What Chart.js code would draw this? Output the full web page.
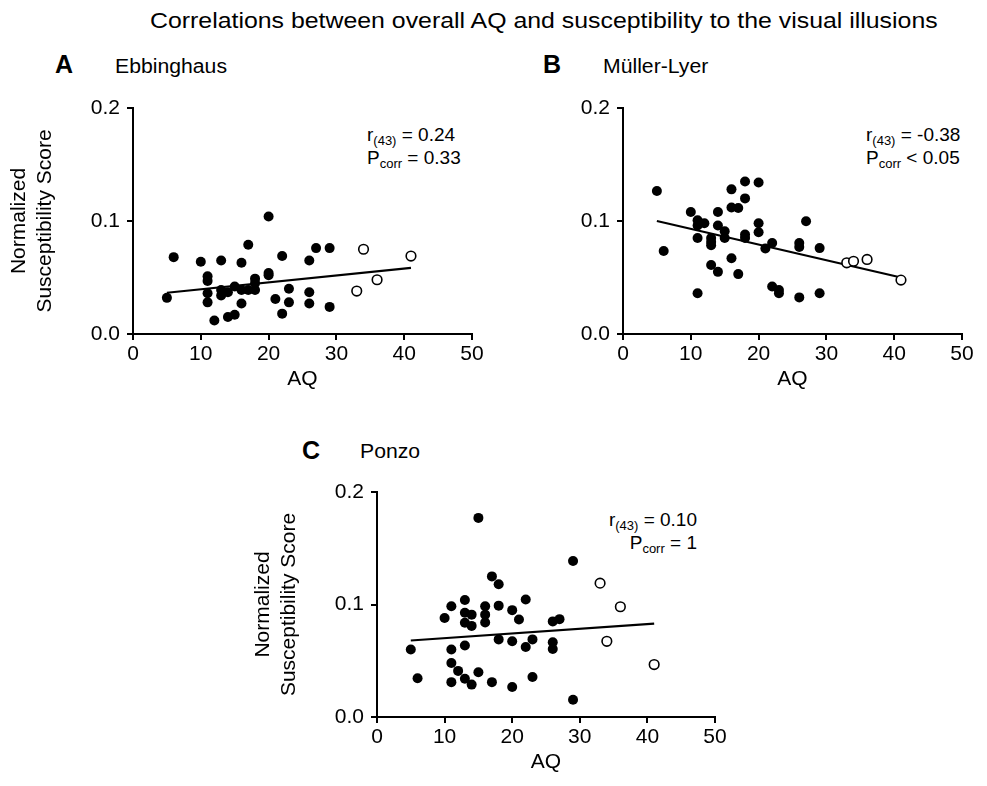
<!DOCTYPE html>
<html>
<head>
<meta charset="utf-8">
<script src="https://cdn.jsdelivr.net/npm/chart.js@4.4.1/dist/chart.umd.min.js"></script>
<style>
    body { margin: 0; background: #fff; font-family: "Liberation Sans", Arial, sans-serif; color: #000; }
    #page { position: relative; width: 987px; height: 786px; overflow: hidden; }
    canvas { position: absolute; }
    .txt { position: absolute; white-space: nowrap; line-height: 1; transform-origin: left top; }
    .title { font-size: 22px; transform: scaleX(1.13); }
    .letter { font-size: 25px; font-weight: bold; }
    .name { font-size: 20px; transform: scaleX(1.06); }
    .ann { font-size: 19px; line-height: 23px; }
    .ann sub { font-size: 13px; vertical-align: -4px; line-height: 0; }
</style>
</head>
<body>
<div id="page">
    <div class="txt title" style="left:150px; top:10px;">Correlations between overall AQ and susceptibility to the visual illusions</div>

    <div class="txt letter" style="left:55px; top:52px;">A</div>
    <div class="txt name" style="left:115px; top:56px;">Ebbinghaus</div>
    <div class="txt letter" style="left:543px; top:52px;">B</div>
    <div class="txt name" style="left:603px; top:56px;">Müller-Lyer</div>
    <div class="txt letter" style="left:302px; top:438px;">C</div>
    <div class="txt name" style="left:360px; top:441px;">Ponzo</div>

    <div class="txt ann" style="left:367px; top:123px;">r<sub>(43)</sub> = 0.24<br>P<sub>corr</sub> = 0.33</div>
    <div class="txt ann" style="left:866px; top:123px;">r<sub>(43)</sub> = -0.38<br>P<sub>corr</sub> &lt; 0.05</div>
    <div class="txt ann" style="right:290px; top:508px; text-align:right;">r<sub>(43)</sub> = 0.10<br>P<sub>corr</sub> = 1</div>

    <canvas id="chartA" width="490" height="306" style="left:0px; top:88px;"></canvas>
    <canvas id="chartB" width="487" height="306" style="left:500px; top:88px;"></canvas>
    <canvas id="chartC" width="490" height="306" style="left:244px; top:472px;"></canvas>
</div>

<script>
// Ebbinghaus
const ebbAQ = [5, 6, 10, 11, 11, 11, 11, 12, 13, 13, 13, 14, 14, 15, 15, 16, 16, 16, 17, 17, 18, 18, 18, 20, 20, 20, 21, 22, 22, 23, 23, 26, 26, 26, 27, 29, 29];
const ebbScore = [0.032, 0.068, 0.064, 0.051, 0.047, 0.036, 0.028, 0.012, 0.065, 0.039, 0.034, 0.037, 0.015, 0.042, 0.017, 0.063, 0.039, 0.027, 0.079, 0.039, 0.049, 0.045, 0.039, 0.104, 0.054, 0.052, 0.031, 0.069, 0.018, 0.040, 0.028, 0.065, 0.037, 0.027, 0.076, 0.076, 0.024];
const ebbOpenAQ = [33, 34, 36, 41];
const ebbOpenScore = [0.038, 0.075, 0.048, 0.069];
const ebbFitAQ = [5, 41];
const ebbFitScore = [0.0365, 0.0585];

// Müller-Lyer
const mlAQ = [5, 6, 10, 11, 11, 11, 11, 12, 13, 13, 13, 13, 14, 14, 14, 15, 15, 16, 16, 16, 17, 17, 18, 18, 18, 18, 20, 20, 20, 21, 22, 22, 23, 23, 26, 26, 26, 27, 29, 29];
const mlScore = [0.1265, 0.0735, 0.108, 0.1006, 0.096, 0.085, 0.036, 0.098, 0.085, 0.0815, 0.0785, 0.061, 0.108, 0.096, 0.055, 0.091, 0.085, 0.128, 0.112, 0.067, 0.1115, 0.053, 0.135, 0.12, 0.088, 0.085, 0.134, 0.098, 0.090, 0.0756, 0.0806, 0.042, 0.039, 0.036, 0.0806, 0.077, 0.0324, 0.0997, 0.076, 0.036];
const mlOpenAQ = [33, 34, 36, 41];
const mlOpenScore = [0.063, 0.0644, 0.066, 0.0477];
const mlFitAQ = [5, 41];
const mlFitScore = [0.100, 0.050];

// Ponzo
const ponzoAQ = [15, 17, 18, 22, 13, 11, 16, 18, 10, 13, 14, 16, 20, 13, 14, 16, 21, 5, 6, 11, 11, 11, 12, 13, 13, 14, 15, 17, 18, 20, 20, 22, 23, 23, 29, 26, 27, 26, 26, 29];
const ponzoScore = [0.177, 0.125, 0.118, 0.1045, 0.104, 0.0985, 0.0985, 0.099, 0.088, 0.0926, 0.091, 0.091, 0.095, 0.0837, 0.081, 0.084, 0.0866, 0.060, 0.0344, 0.060, 0.048, 0.031, 0.041, 0.0635, 0.034, 0.0288, 0.0397, 0.031, 0.069, 0.0673, 0.0267, 0.0623, 0.069, 0.0356, 0.1386, 0.085, 0.087, 0.0665, 0.0605, 0.0154];
const ponzoOpenAQ = [33, 36, 34, 41];
const ponzoOpenScore = [0.119, 0.098, 0.0673, 0.0466];
const ponzoFitAQ = [5, 41];
const ponzoFitScore = [0.068, 0.083];

const xTicks = [0, 10, 20, 30, 40, 50];
const yTicks = [0, 0.1, 0.2];

Chart.defaults.font.family = '"Liberation Sans", Arial, sans-serif';
Chart.defaults.color = '#000';

function toPoints(xs, ys) {
    return xs.map((x, i) => ({ x, y: ys[i] }));
}

function drawPanel(canvasId, closedX, closedY, openX, openY, fitX, fitY, showYTitle, yWidth, pad) {
    const ctx = document.getElementById(canvasId).getContext('2d');
    return new Chart(ctx, {
        type: 'scatter',
        data: {
            datasets: [{
                data: toPoints(closedX, closedY),
                pointRadius: 5,
                pointBackgroundColor: '#000',
                pointBorderColor: '#000',
                pointBorderWidth: 0,
            }, {
                data: toPoints(openX, openY),
                pointRadius: 4.8,
                pointBackgroundColor: '#fff',
                pointBorderColor: '#000',
                pointBorderWidth: 1.6,
            }, {
                type: 'line',
                data: toPoints(fitX, fitY),
                borderColor: '#000',
                borderWidth: 2.2,
                pointRadius: 0,
                fill: false,
            }]
        },
        options: {
            responsive: false,
            animation: false,
            events: [],
            layout: { padding: pad },
            plugins: {
                legend: { display: false },
                tooltip: { enabled: false },
            },
            scales: {
                x: {
                    type: 'linear',
                    min: 0,
                    max: 50,
                    afterFit: (scale) => { scale.height = 58; },
                    afterBuildTicks: (scale) => { scale.ticks = xTicks.map(v => ({ value: v })); },
                    border: { display: true, color: '#000', width: 2 },
                    grid: { drawOnChartArea: false, drawTicks: true, tickLength: 6, color: '#000', lineWidth: 2 },
                    ticks: { padding: 2, color: '#000', font: { size: 21 } },
                    title: { display: true, text: 'AQ', color: '#000', font: { size: 21 }, padding: { top: 0, bottom: 0 } },
                },
                y: {
                    type: 'linear',
                    min: 0,
                    max: 0.2,
                    afterFit: (scale) => { scale.width = yWidth; },
                    afterBuildTicks: (scale) => { scale.ticks = yTicks.map(v => ({ value: v })); },
                    border: { display: true, color: '#000', width: 2 },
                    grid: { drawOnChartArea: false, drawTicks: true, tickLength: 6, color: '#000', lineWidth: 2 },
                    ticks: { padding: 7, color: '#000', font: { size: 21 }, callback: (v) => v.toFixed(1) },
                    title: {
                        display: showYTitle,
                        text: ['Normalized', 'Susceptibility Score'],
                        color: '#000',
                        font: { size: 21 },
                        padding: { top: 7, bottom: 0 },
                    },
                },
            },
        },
    });
}

drawPanel('chartA', ebbAQ, ebbScore, ebbOpenAQ, ebbOpenScore, ebbFitAQ, ebbFitScore, true, 133,
    { left: 0, top: 20, right: 18, bottom: 2 });
drawPanel('chartB', mlAQ, mlScore, mlOpenAQ, mlOpenScore, mlFitAQ, mlFitScore, false, 123,
    { left: 0, top: 20, right: 25, bottom: 2 });
drawPanel('chartC', ponzoAQ, ponzoScore, ponzoOpenAQ, ponzoOpenScore, ponzoFitAQ, ponzoFitScore, true, 133,
    { left: 0, top: 20, right: 19, bottom: 3 });
</script>
</body>
</html>
